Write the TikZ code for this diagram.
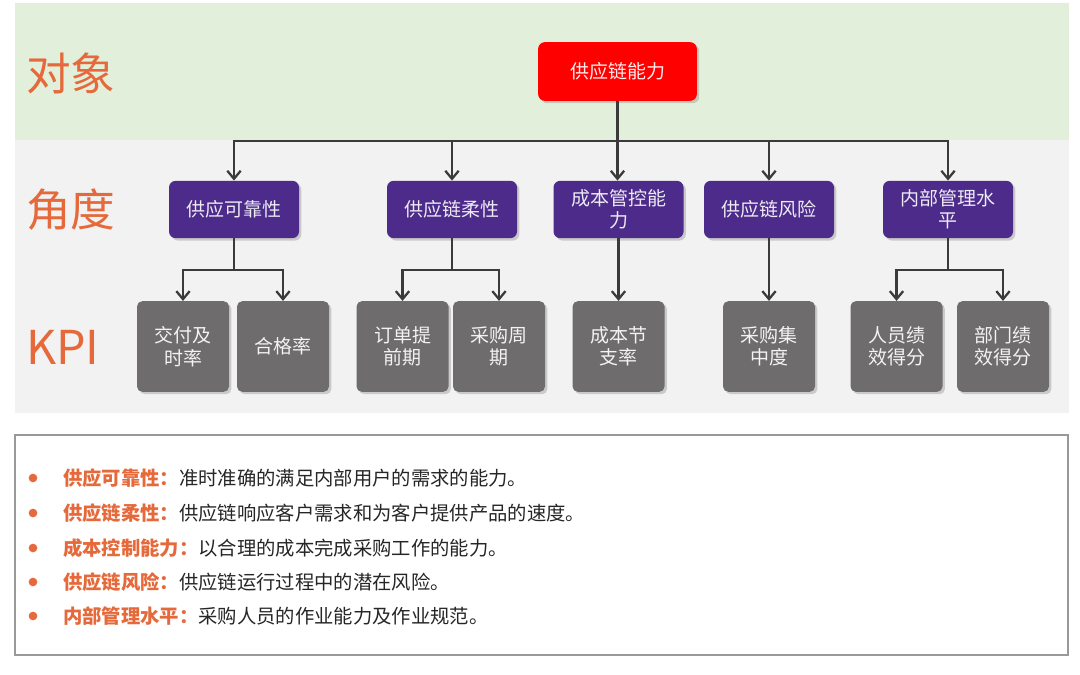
\documentclass[tikz,border=0pt]{standalone}
\usepackage{fontspec}
\setmainfont{Noto Sans CJK SC}
\usetikzlibrary{arrows.meta,shadows}
\definecolor{bandgreen}{HTML}{E2EFDA}
\definecolor{bandgray}{HTML}{F2F2F2}
\definecolor{lbl}{HTML}{E5693A}
\definecolor{purp}{HTML}{4D2B8A}
\definecolor{kgray}{HTML}{6E6C6C}
\definecolor{linec}{HTML}{3A3A3A}
\definecolor{bodytxt}{HTML}{262626}
\tikzset{
  boxbase/.style={rounded corners=5pt, align=center, inner sep=0pt,
    font=\fontsize{14.25pt}{16.8pt}\selectfont,
    drop shadow={opacity=0.35, shadow xshift=1.8pt, shadow yshift=-1.8pt}},
  topbox/.style={boxbase, fill=red, text=white!92!red, minimum width=119pt, minimum height=44pt},
  purbox/.style={boxbase, fill=purp, text=white!90!purp, minimum width=97.5pt, minimum height=43pt},
  kpibox/.style={boxbase, fill=kgray, text=white!92!kgray, minimum width=69pt, minimum height=68pt, rounded corners=4pt},
  arr/.style={draw=linec, line width=1.7pt, -{Straight Barb[length=6pt,width=10pt,line width=1.7pt]}},
  lnk/.style={draw=linec, line width=1.7pt},
  biglbl/.style={text=lbl, anchor=west, inner sep=0pt, font=\fontsize{33.5pt}{36pt}\selectfont},
  bodyline/.style={anchor=west, inner sep=0pt, text=bodytxt, font=\fontsize{14.5pt}{17pt}\selectfont},
  bullet/.style={circle, fill=lbl, inner sep=0pt, minimum size=6.5pt}
}
\begin{document}
\begin{tikzpicture}[x=0.75pt,y=-0.75pt]
\useasboundingbox (0,0) rectangle (1080,674);
\fill[white] (0,0) rectangle (1080,674);
% bands
\fill[bandgreen] (15,3) rectangle (1069,140);
\fill[bandgray] (15,140) rectangle (1069,413);
% row labels
\node[biglbl] (lobj) at (26,73) {对象};
\node[biglbl] (lang) at (26,210) {角度};
\node[biglbl, font=\fontsize{35pt}{38pt}\selectfont] (lkpi) at (26,347) {KPI};
% top node
\node[topbox] (top) at (617.5,71.5) {供应链能力};
% purple
\node[purbox] (p1) at (234,209.5) {供应可靠性};
\node[purbox] (p2) at (452,209.5) {供应链柔性};
\node[purbox] (p3) at (618.5,209.5) {成本管控能\\力};
\node[purbox] (p4) at (769,209.5) {供应链风险};
\node[purbox] (p5) at (948,209.5) {内部管理水\\平};
% KPI
\node[kpibox] (k1) at (183,346.5) {交付及\\时率};
\node[kpibox] (k2) at (283,346.5) {合格率};
\node[kpibox] (k3) at (402.5,346.5) {订单提\\前期};
\node[kpibox] (k4) at (499,346.5) {采购周\\期};
\node[kpibox] (k5) at (618.5,346.5) {成本节\\支率};
\node[kpibox] (k6) at (769,346.5) {采购集\\中度};
\node[kpibox] (k7) at (896.5,346.5) {人员绩\\效得分};
\node[kpibox] (k8) at (1003,346.5) {部门绩\\效得分};
% connectors top -> purple
\coordinate (bus) at (617.5,141);
\draw[lnk] (top.south) -- (top.south|-bus);
\draw[arr] (top.south|-bus) -| (p1.north);
\draw[arr] (top.south|-bus) -| (p2.north);
\draw[arr] (top.south|-bus) -- (top.south|-p3.north);
\draw[arr] (top.south|-bus) -| (p4.north);
\draw[arr] (top.south|-bus) -| (p5.north);
% purple -> KPI
\coordinate (j1) at (234,270);
\coordinate (j2) at (452,270);
\coordinate (j5) at (948,270);
\draw[lnk] (p1.south) -- (j1);
\draw[arr] (j1) -| (k1.north);
\draw[arr] (j1) -| (k2.north);
\draw[lnk] (p2.south) -- (j2);
\draw[arr] (j2) -| (k3.north);
\draw[arr] (j2) -| (k4.north);
\draw[arr] (p3.south) -- (p3.south|-k5.north);
\draw[arr] (p4.south) -- (p4.south|-k6.north);
\draw[lnk] (p5.south) -- (j5);
\draw[arr] (j5) -| (k7.north);
\draw[arr] (j5) -| (k8.north);
% bottom box
\draw[draw=black!40, fill=white, line width=0.8pt] (15,435) rectangle (1068,655);
\node[bullet] (b1) at (33,478) {};
\node[bullet] (b2) at (33,513) {};
\node[bullet] (b3) at (33,548) {};
\node[bullet] (b4) at (33,582) {};
\node[bullet] (b5) at (33,616) {};
\node[bodyline] (t1) at (63,478) {\textcolor{lbl}{\bfseries 供应可靠性：}准时准确的满足内部用户的需求的能力。};
\node[bodyline] (t2) at (63,513) {\textcolor{lbl}{\bfseries 供应链柔性：}供应链响应客户需求和为客户提供产品的速度。};
\node[bodyline] (t3) at (63,548) {\textcolor{lbl}{\bfseries 成本控制能力：}以合理的成本完成采购工作的能力。};
\node[bodyline] (t4) at (63,582) {\textcolor{lbl}{\bfseries 供应链风险：}供应链运行过程中的潜在风险。};
\node[bodyline] (t5) at (63,616) {\textcolor{lbl}{\bfseries 内部管理水平：}采购人员的作业能力及作业规范。};
\end{tikzpicture}
\end{document}
